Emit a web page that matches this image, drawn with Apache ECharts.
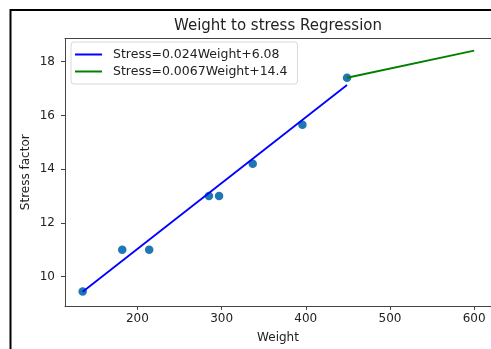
<!DOCTYPE html>
<html>
<head>
<meta charset="utf-8">
<script src="https://cdn.jsdelivr.net/npm/echarts@6/dist/echarts.min.js"></script>
<style>html,body{margin:0;padding:0;background:#fff;}#chart{width:491px;height:349px;}</style>
</head>
<body>
<div id="chart"></div>
<script>
const weights = [135, 182, 214, 285, 297, 337, 396, 449];
const stress = [9.45, 11, 11, 13, 13, 14.2, 15.65, 17.4];
const blueLineX = [135, 449];
const blueLineY = [9.44, 17.13];
const greenLineX = [449, 600];
const greenLineY = [17.4, 18.41];
const xTicks = [200, 300, 400, 500, 600];
const yTicks = [10, 12, 14, 16, 18];
const blueName = 'Stress=0.024Weight+6.08';
const greenName = 'Stress=0.0067Weight+14.4';
const titleText = 'Weight to stress Regression';

const zip = (a, b) => a.map((v, i) => [v, b[i]]);
const font = 'DejaVu Sans';
const txt = '#222';
const chart = echarts.init(document.getElementById('chart'), null, {renderer: 'canvas'});
chart.setOption({
  animation: false,
  backgroundColor: '#fff',
  title: {
    text: titleText, left: 278, top: 19, textAlign: 'center', padding: 0,
    textStyle: {fontFamily: font, fontSize: 15, fontWeight: 'normal', color: txt}
  },
  graphic: [{
    type: 'rect', silent: true, z: 100,
    shape: {x: 10.5, y: 10, width: 600, height: 500},
    style: {fill: 'none', stroke: '#000', lineWidth: 2}
  }],
  legend: {
    orient: 'vertical', left: 71, top: 42,
    data: [blueName, greenName],
    icon: 'rect', itemWidth: 27, itemHeight: 2, itemGap: 4,
    padding: [6, 10, 6, 4],
    borderColor: '#d8d8d8', borderWidth: 1, borderRadius: 3,
    backgroundColor: '#fff',
    textStyle: {fontFamily: font, fontSize: 12.5, color: txt, padding: [0, 0, 0, 6]}
  },
  grid: {left: 65, right: 0, top: 38.5, bottom: 43, containLabel: false},
  xAxis: [{
    type: 'value', min: 114, max: 620,
    name: 'Weight', nameLocation: 'middle', nameGap: 26, nameMoveOverlap: false,
    nameTextStyle: {fontFamily: font, fontSize: 12, color: txt},
    axisLine: {show: true, lineStyle: {color: '#444', width: 1}},
    axisTick: {show: true, length: 4, lineStyle: {color: '#444'}, customValues: xTicks},
    axisLabel: {fontFamily: font, fontSize: 12, color: txt, margin: 7, customValues: xTicks},
    splitLine: {show: false}
  }, {
    type: 'value', position: 'top', min: 114, max: 620,
    axisLine: {show: true, lineStyle: {color: '#444', width: 1}},
    axisTick: {show: false}, axisLabel: {show: false}, splitLine: {show: false}
  }],
  yAxis: {
    type: 'value', min: 8.91, max: 18.86,
    name: 'Stress factor', nameLocation: 'middle', nameGap: 33, nameRotate: 90, nameMoveOverlap: false,
    nameTextStyle: {fontFamily: font, fontSize: 12, color: txt},
    axisLine: {show: true, lineStyle: {color: '#444', width: 1}},
    axisTick: {show: true, length: 4, lineStyle: {color: '#444'}, customValues: yTicks},
    axisLabel: {fontFamily: font, fontSize: 12, color: txt, margin: 10, customValues: yTicks},
    splitLine: {show: false}
  },
  series: [
    {
      type: 'scatter', name: 'points', data: zip(weights, stress),
      symbolSize: 8.5, itemStyle: {color: '#1f77b4', opacity: 1}, z: 1
    },
    {
      type: 'line', name: blueName, data: zip(blueLineX, blueLineY),
      showSymbol: false, symbol: 'none', lineStyle: {color: '#0000ff', width: 1.8},
      itemStyle: {color: '#0000ff'}, z: 3
    },
    {
      type: 'line', name: greenName, data: zip(greenLineX, greenLineY),
      showSymbol: false, symbol: 'none', lineStyle: {color: '#008000', width: 1.8},
      itemStyle: {color: '#008000'}, z: 3
    }
  ]
});
</script>
</body>
</html>
